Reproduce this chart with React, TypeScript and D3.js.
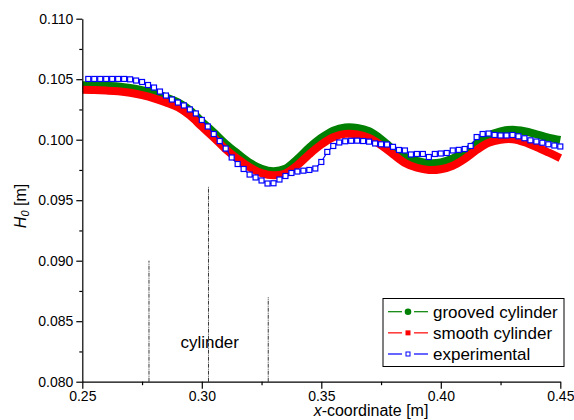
import React, { useRef, useEffect } from 'react';
import * as d3 from 'd3';

// x positions shared by both simulated curves
const simX = [
  0.250, 0.255, 0.260, 0.265, 0.270, 0.275, 0.280, 0.285, 0.290, 0.295,
  0.300, 0.305, 0.310, 0.315, 0.320, 0.325, 0.330, 0.335, 0.340, 0.345,
  0.350, 0.355, 0.360, 0.365, 0.370, 0.375, 0.380, 0.385, 0.390, 0.395,
  0.400, 0.405, 0.410, 0.415, 0.420, 0.425, 0.430, 0.435, 0.440, 0.445,
  0.450,
];
const grooved = [
  0.10450, 0.10449, 0.10446, 0.10440, 0.10428, 0.10410, 0.10385, 0.10350, 0.10310, 0.10245,
  0.10150, 0.10060, 0.09965, 0.09885, 0.09810, 0.09760, 0.09740, 0.09760, 0.09840, 0.09935,
  0.10015, 0.10075, 0.10102, 0.10098, 0.10070, 0.10005, 0.09920, 0.09860, 0.09825, 0.09806,
  0.09812, 0.09845, 0.09900, 0.09965, 0.10032, 0.10068, 0.10082, 0.10070, 0.10045, 0.10018,
  0.09998,
];
const smooth = [
  0.10412, 0.10410, 0.10406, 0.10400, 0.10388, 0.10368, 0.10342, 0.10308, 0.10268, 0.10200,
  0.10108, 0.10018, 0.09922, 0.09842, 0.09772, 0.09724, 0.09706, 0.09722, 0.09790, 0.09880,
  0.09960, 0.10020, 0.10048, 0.10044, 0.10015, 0.09955, 0.09880, 0.09808, 0.09768, 0.09750,
  0.09756, 0.09785, 0.09842, 0.09915, 0.09975, 0.10000, 0.10004, 0.09980, 0.09940, 0.09895,
  0.09848,
];

// experimental measurements
const expX = [
  0.2525, 0.2550, 0.2575, 0.2600, 0.2625, 0.2650, 0.2675, 0.2700, 0.2725, 0.2750,
  0.2775, 0.2800, 0.2825, 0.2850, 0.2875, 0.2900, 0.2925, 0.2950, 0.2975, 0.3000,
  0.3025, 0.3050, 0.3075, 0.3100, 0.3125, 0.3150, 0.3175, 0.3200, 0.3225, 0.3250,
  0.3275, 0.3300, 0.3325, 0.3350, 0.3375, 0.3400, 0.3425, 0.3450, 0.3475, 0.3500,
  0.3525, 0.3550, 0.3575, 0.3600, 0.3625, 0.3650, 0.3675, 0.3700, 0.3725, 0.3750,
  0.3775, 0.3800, 0.3825, 0.3850, 0.3875, 0.3900, 0.3925, 0.3950, 0.3975, 0.4000,
  0.4025, 0.4050, 0.4075, 0.4100, 0.4125, 0.4150, 0.4175, 0.4200, 0.4225, 0.4250,
  0.4275, 0.4300, 0.4325, 0.4350, 0.4375, 0.4400, 0.4425, 0.4450, 0.4475, 0.4500,
];
const expY = [
  0.10502, 0.10502, 0.10502, 0.10502, 0.10502, 0.10502, 0.10502, 0.10499, 0.10489, 0.10477,
  0.10452, 0.10431, 0.10398, 0.10365, 0.10332, 0.10307, 0.10283, 0.10250, 0.10217, 0.10163,
  0.10109, 0.10047, 0.09989, 0.09927, 0.09853, 0.09799, 0.09758, 0.09712, 0.09688, 0.09663,
  0.09638, 0.09640, 0.09671, 0.09700, 0.09725, 0.09737, 0.09744, 0.09750, 0.09762, 0.09816,
  0.09899, 0.09948, 0.09977, 0.09987, 0.09991, 0.09992, 0.09989, 0.09984, 0.09969, 0.09962,
  0.09960, 0.09941, 0.09915, 0.09911, 0.09878, 0.09882, 0.09882, 0.09857, 0.09882, 0.09886,
  0.09890, 0.09911, 0.09916, 0.09923, 0.09948, 0.10022, 0.10047, 0.10051, 0.10039, 0.10035,
  0.10035, 0.10039, 0.10028, 0.10012, 0.09995, 0.09985, 0.09975, 0.09962, 0.09952, 0.09944,
];

const xTicks = [0.25, 0.30, 0.35, 0.40, 0.45];
const xMinor = [0.275, 0.325, 0.375, 0.425];
const yTicks = [0.080, 0.085, 0.090, 0.095, 0.100, 0.105, 0.110];
const yMinor = [0.0825, 0.0875, 0.0925, 0.0975, 0.1025, 0.1075];

// cylinder marker lines
const markX = [0.2779, 0.3028, 0.3278];
const markTop = [0.0900, 0.0961, 0.0870];

const seriesNames = ['grooved cylinder', 'smooth cylinder', 'experimental'];
const seriesColors = ['#008000', '#ff0000', '#0000ff'];

const FONT = '"Liberation Sans", Arial, sans-serif';

const App: React.FC = () => {
  const svgRef = useRef<SVGSVGElement | null>(null);

  useEffect(() => {
    const svg = d3.select(svgRef.current);
    svg.selectAll('*').remove();

    const x = d3.scaleLinear().domain([0.25, 0.45]).range([82.3, 560.3]);
    const y = d3.scaleLinear().domain([0.08, 0.11]).range([381.7, 18.7]);

    // marker lines for the cylinder
    svg.append('g')
      .selectAll('line')
      .data(markX)
      .enter()
      .append('line')
      .attr('x1', d => x(d))
      .attr('x2', d => x(d))
      .attr('y1', y(0.08))
      .attr('y2', (_, i) => y(markTop[i]))
      .attr('stroke', '#222')
      .attr('stroke-width', 0.9)
      .attr('stroke-dasharray', '4,1,1,1');

    svg.append('text')
      .attr('x', x(0.3033))
      .attr('y', 348)
      .attr('text-anchor', 'middle')
      .attr('font-family', FONT)
      .attr('font-size', 17)
      .text('cylinder');

    // simulated bands
    const band = d3.line<number>()
      .x((_, i) => x(simX[i]))
      .y(d => y(d))
      .curve(d3.curveCatmullRom);

    svg.append('path')
      .attr('d', band(grooved))
      .attr('fill', 'none')
      .attr('stroke', seriesColors[0])
      .attr('stroke-width', 8);

    svg.append('path')
      .attr('d', band(smooth))
      .attr('fill', 'none')
      .attr('stroke', seriesColors[1])
      .attr('stroke-width', 8);

    // experimental
    const expLine = d3.line<number>()
      .x((_, i) => x(expX[i]))
      .y(d => y(d));

    svg.append('path')
      .attr('d', expLine(expY))
      .attr('fill', 'none')
      .attr('stroke', seriesColors[2])
      .attr('stroke-width', 1.2);

    svg.append('g')
      .selectAll('rect')
      .data(expY)
      .enter()
      .append('rect')
      .attr('x', (_, i) => x(expX[i]) - 2.5)
      .attr('y', d => y(d) - 2.5)
      .attr('width', 5)
      .attr('height', 5)
      .attr('fill', '#fff')
      .attr('stroke', seriesColors[2])
      .attr('stroke-width', 1.2);

    // axes
    const yAxis = d3.axisLeft(y)
      .tickValues(yTicks)
      .tickFormat(d3.format('.3f') as any)
      .tickSize(6)
      .tickSizeOuter(0)
      .tickPadding(3);
    const gy = svg.append('g')
      .attr('transform', `translate(${x(0.25)},0)`)
      .call(yAxis);

    const yMinorAxis = d3.axisLeft(y)
      .tickValues(yMinor)
      .tickFormat(() => '')
      .tickSize(3)
      .tickSizeOuter(0);
    svg.append('g')
      .attr('transform', `translate(${x(0.25)},0)`)
      .call(yMinorAxis)
      .call(g => g.select('.domain').remove());

    const xAxis = d3.axisBottom(x)
      .tickValues(xTicks)
      .tickFormat(d3.format('.2f') as any)
      .tickSize(7)
      .tickSizeOuter(0)
      .tickPadding(2);
    const gx = svg.append('g')
      .attr('transform', `translate(0,${y(0.08)})`)
      .call(xAxis);

    const xMinorAxis = d3.axisBottom(x)
      .tickValues(xMinor)
      .tickFormat(() => '')
      .tickSize(3.5)
      .tickSizeOuter(0);
    svg.append('g')
      .attr('transform', `translate(0,${y(0.08)})`)
      .call(xMinorAxis)
      .call(g => g.select('.domain').remove());

    [gx, gy].forEach(g => {
      g.selectAll('text')
        .attr('font-family', FONT)
        .attr('font-size', 14)
        .attr('fill', '#000');
      g.selectAll('line, path').attr('stroke', '#000').attr('stroke-width', 1.2);
    });
    svg.selectAll('.tick line').attr('stroke', '#000').attr('stroke-width', 1.2);

    // axis titles
    const xt = svg.append('text')
      .attr('x', 371)
      .attr('y', 416)
      .attr('text-anchor', 'middle')
      .attr('font-family', FONT)
      .attr('font-size', 16);
    xt.append('tspan').attr('font-style', 'italic').text('x');
    xt.append('tspan').text('-coordinate [m]');

    const yt = svg.append('text')
      .attr('transform', 'translate(26,206) rotate(-90)')
      .attr('text-anchor', 'middle')
      .attr('font-family', FONT)
      .attr('font-size', 16);
    yt.append('tspan').attr('font-style', 'italic').text('H');
    yt.append('tspan').attr('font-style', 'italic').attr('font-size', 11).attr('dy', 3).text('0');
    yt.append('tspan').attr('dy', -3).text(' [m]');

    // legend
    const lg = svg.append('g');
    lg.append('rect')
      .attr('x', 383)
      .attr('y', 298.5)
      .attr('width', 181)
      .attr('height', 68)
      .attr('fill', '#fff')
      .attr('stroke', '#000')
      .attr('stroke-width', 1);

    const rowY = d3.scalePoint<string>().domain(seriesNames).range([311.7, 354]);
    seriesNames.forEach((name, i) => {
      const cy = rowY(name) as number;
      const col = seriesColors[i];
      lg.append('line').attr('x1', 388).attr('x2', 402).attr('y1', cy).attr('y2', cy)
        .attr('stroke', col).attr('stroke-width', 1.2);
      lg.append('line').attr('x1', 414).attr('x2', 428).attr('y1', cy).attr('y2', cy)
        .attr('stroke', col).attr('stroke-width', 1.2);
      if (i === 0) {
        lg.append('circle').attr('cx', 408).attr('cy', cy).attr('r', 3.3).attr('fill', col);
      } else if (i === 1) {
        lg.append('rect').attr('x', 405.5).attr('y', cy - 2.5).attr('width', 5).attr('height', 5).attr('fill', col);
      } else {
        lg.append('rect').attr('x', 406).attr('y', cy - 2).attr('width', 4).attr('height', 4)
          .attr('fill', '#fff').attr('stroke', col).attr('stroke-width', 1);
      }
      lg.append('text')
        .attr('x', 433)
        .attr('y', cy + 6)
        .attr('font-family', FONT)
        .attr('font-size', 17)
        .text(name);
    });
  }, []);

  return (
    <div>
      <svg
        ref={svgRef}
        width={574}
        height={420}
        style={{ position: 'absolute', left: 0, top: 0, background: '#fff' }}
      />
    </div>
  );
};

export default App;
